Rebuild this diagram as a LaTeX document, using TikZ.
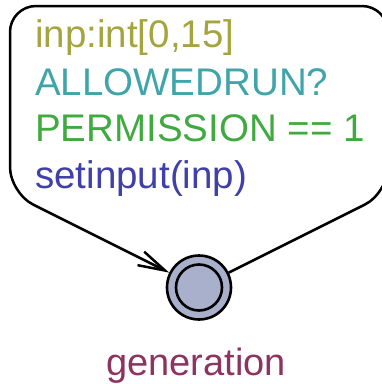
\documentclass[tikz,border=0pt]{standalone}
\usepackage{fontspec}
\setmainfont{Liberation Sans}
\usetikzlibrary{arrows.meta}
\definecolor{selcol}{HTML}{A5A540}
\definecolor{synccol}{HTML}{40A5AA}
\definecolor{guardcol}{HTML}{40AA40}
\definecolor{updcol}{HTML}{4040AA}
\definecolor{namecol}{HTML}{8C3360}
\definecolor{locfill}{HTML}{A8B0CC}
\tikzset{
  lbl/.style={anchor=base west, inner sep=0pt, font=\fontsize{38.5}{38.5}\selectfont},
  loc/.style={circle, draw=black, line width=2.6pt, fill=locfill, minimum size=64pt, inner sep=0pt},
  edge/.style={line width=2.5pt, rounded corners=26pt},
  tip/.style={-{Straight Barb[length=27pt,width=15pt,line width=2.5pt]}}
}
\begin{document}
\begin{tikzpicture}[x=1pt,y=-1pt]
\useasboundingbox (0,0) rectangle (382,384);
% location
\node[loc] (gen) at (199,287.5) {};
\draw[line width=2.6pt] (gen.center) circle[radius=23];
\node[anchor=base, inner sep=0pt, font=\fontsize{38}{38}\selectfont, text=namecol] (genname) at (196,375) {generation};
% self loop
\coordinate (c1) at (388,193);
\coordinate (c2) at (388,6);
\coordinate (c3) at (10,6);
\coordinate (c4) at (10,193);
\draw[edge, tip] (gen) -- (c1) -- (c2) -- (c3) -- (c4) -- (gen);
% edge labels
\node[lbl, text=selcol] (sel) at (35,47) {inp:int[0,15]};
\node[lbl, text=synccol] (sync) at (35,95) {ALLOWEDRUN?};
\node[lbl, text=guardcol] (guard) at (35,141) {PERMISSION == 1};
\node[lbl, text=updcol] (upd) at (35,188) {setinput(inp)};
\end{tikzpicture}
\end{document}
